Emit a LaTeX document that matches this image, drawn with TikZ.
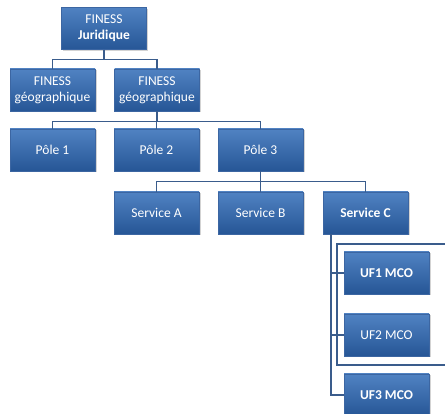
\documentclass[tikz,border=0pt]{standalone}
\usepackage{fontspec}
\setmainfont{Carlito}
\usepackage{tikz}
\usetikzlibrary{shadows}
\definecolor{boxtop}{RGB}{80,130,194}
\definecolor{boxbot}{RGB}{38,86,150}
\definecolor{boxline}{RGB}{60,102,162}
\definecolor{linkblue}{RGB}{58,92,140}
\tikzset{orgbox/.style={rectangle, draw=boxline, line width=0.6pt, top color=boxtop, bottom color=boxbot, text=white, font=\fontsize{13.5}{16}\selectfont, align=center, minimum width=85pt, minimum height=42pt, inner sep=1pt, drop shadow={shadow xshift=1.5pt, shadow yshift=-1.5pt, opacity=0.35}},
  link/.style={draw=linkblue, line width=1.1pt}}
\newcommand{\orgbox}[3] {\node at (#1) (#2) [orgbox] {#3};}
\newcommand{\orglink}[2] {\draw [link] (#1.south) -- ++(0,-10) -| (#2.north);}
\newcommand{\uflink}[2] {\draw [link] (#1) |- (#2.west);}

\begin{document}
\begin{tikzpicture}[x=1pt,y=1pt]
\useasboundingbox (0,0) rectangle (445,-414);
\clip (0,0) rectangle (445,-414);
\orgbox {104,-28.5} {jur} {FINESS\\\textbf{Juridique}};
\orgbox {52.5,-90} {geoa} {FINESS\\géographique};
\orgbox {157,-90} {geob} {FINESS\\géographique};
\orgbox {52.5,-150} {polea} {Pôle 1};
\orgbox {156.5,-150} {poleb} {Pôle 2};
\orgbox {260.5,-150} {polec} {Pôle 3};
\orgbox {156.5,-213} {serva} {Service A};
\orgbox {260.5,-213} {servb} {Service B};
\orgbox {365.5,-213} {servc} {\textbf{Service C}};
\orgbox {386.5,-273} {ufa} {\textbf{UF1 MCO}};
\orgbox {386.5,-335} {ufb} {UF2 MCO};
\orgbox {386.5,-395} {ufc} {\textbf{UF3 MCO}};

\orglink{jur}{geoa};
\orglink{jur}{geob};
\orglink{geob}{polea};
\orglink{geob}{poleb};
\orglink{geob}{polec};
\orglink{polec}{serva};
\orglink{polec}{servb};
\orglink{polec}{servc};

\coordinate (trunk) at (331,-234);
\uflink{trunk}{ufa};
\uflink{trunk}{ufb};
\uflink{trunk}{ufc};

% cadre UF1/UF2
\draw [link] (450,-244) -- (337,-244) -- (337,-365) -- (450,-365);
\end{tikzpicture}
\end{document}
